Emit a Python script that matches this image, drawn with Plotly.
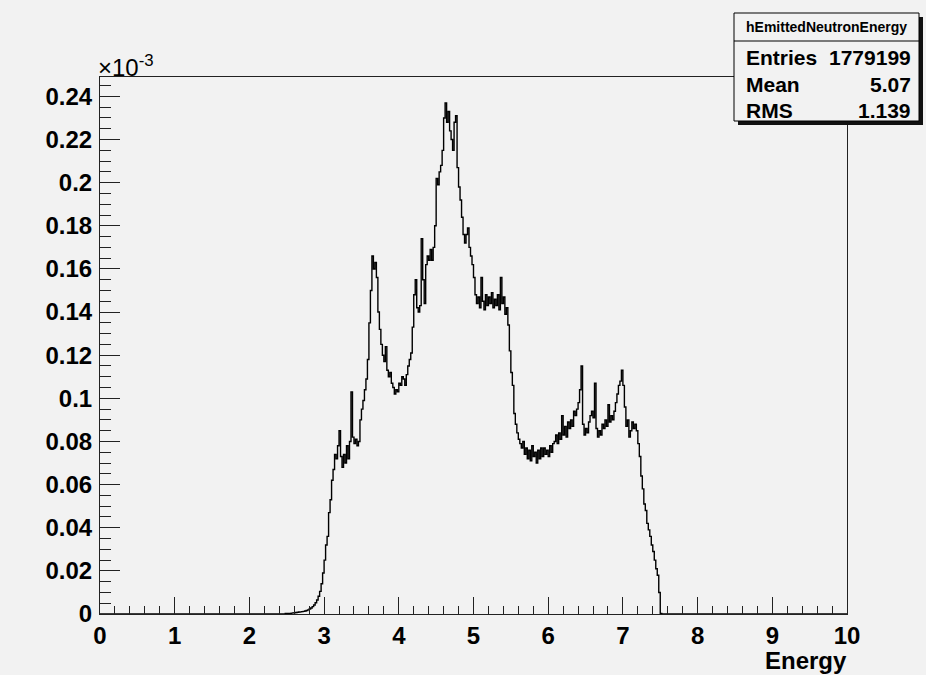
import plotly.graph_objects as go

# ---- data (values in units of 1e-3) ----
bin_width = 0.02
first_filled_edge = 2.40
hist_values = [
    0, 0, 0, 0, 0.0002, 0.0002, 0.0003, 0.0003, 0.0004, 0.0005,
    0.0006, 0.0007, 0.0008, 0.0009, 0.0010, 0.0011, 0.0012, 0.0014, 0.0016, 0.0019,
    0.0023, 0.0028, 0.0034, 0.0042, 0.0052, 0.0065, 0.0082, 0.0105, 0.0140, 0.0190,
    0.0250, 0.0320, 0.0360, 0.0470, 0.0530, 0.0620, 0.0670, 0.0740, 0.0720, 0.0780,
    0.0850, 0.0730, 0.0680, 0.0740, 0.0700, 0.0780, 0.0720, 0.0800, 0.1030, 0.0820,
    0.0790, 0.0810, 0.0780, 0.0800, 0.0900, 0.0950, 0.0990, 0.1040, 0.1090, 0.1180,
    0.1350, 0.1500, 0.1660, 0.1600, 0.1630, 0.1560, 0.1400, 0.1320, 0.1250, 0.1200,
    0.1170, 0.1240, 0.1130, 0.1100, 0.1120, 0.1070, 0.1050, 0.1020, 0.1040, 0.1030,
    0.1070, 0.1060, 0.1100, 0.1090, 0.1060, 0.1110, 0.1150, 0.1180, 0.1210, 0.1330,
    0.1480, 0.1550, 0.1420, 0.1400, 0.1430, 0.1740, 0.1550, 0.1440, 0.1620, 0.1660,
    0.1640, 0.1690, 0.1640, 0.1700, 0.1800, 0.2020, 0.1990, 0.2050, 0.2080, 0.2150,
    0.2300, 0.2370, 0.2280, 0.2330, 0.2240, 0.2200, 0.2150, 0.2280, 0.2310, 0.2070,
    0.1980, 0.1920, 0.1840, 0.1760, 0.1720, 0.1760, 0.1790, 0.1700, 0.1660, 0.1620,
    0.1560, 0.1480, 0.1440, 0.1470, 0.1420, 0.1560, 0.1450, 0.1410, 0.1480, 0.1430,
    0.1470, 0.1440, 0.1490, 0.1420, 0.1460, 0.1430, 0.1480, 0.1410, 0.1560, 0.1440,
    0.1470, 0.1390, 0.1420, 0.1340, 0.1220, 0.1120, 0.1060, 0.0930, 0.0880, 0.0840,
    0.0810, 0.0790, 0.0770, 0.0800, 0.0740, 0.0770, 0.0720, 0.0760, 0.0710, 0.0780,
    0.0730, 0.0750, 0.0700, 0.0760, 0.0720, 0.0770, 0.0730, 0.0770, 0.0740, 0.0760,
    0.0730, 0.0780, 0.0750, 0.0790, 0.0800, 0.0830, 0.0790, 0.0840, 0.0810, 0.0920,
    0.0830, 0.0870, 0.0820, 0.0890, 0.0860, 0.0900, 0.0870, 0.0940, 0.0920, 0.0950,
    0.0980, 0.1040, 0.1150, 0.0880, 0.0830, 0.0860, 0.0840, 0.0890, 0.0920, 0.0940,
    0.0910, 0.1070, 0.0860, 0.0820, 0.0850, 0.0830, 0.0880, 0.0860, 0.0900, 0.0870,
    0.0970, 0.0890, 0.0920, 0.0900, 0.0940, 0.0980, 0.1020, 0.1060, 0.1080, 0.1130,
    0.1060, 0.0960, 0.0870, 0.0900, 0.0820, 0.0850, 0.0890, 0.0860, 0.0880, 0.0850,
    0.0790, 0.0730, 0.0640, 0.0580, 0.0510, 0.0480, 0.0420, 0.0390, 0.0360, 0.0320,
    0.0290, 0.0250, 0.0210, 0.0180, 0.0100, 0.0003,
]
x_min, x_max = 0.0, 10.0
y_max = 0.249
y_ticks = [0, 0.02, 0.04, 0.06, 0.08, 0.1, 0.12, 0.14, 0.16, 0.18, 0.2, 0.22, 0.24]
y_tick_labels = ["0", "0.02", "0.04", "0.06", "0.08", "0.1", "0.12", "0.14",
                 "0.16", "0.18", "0.2", "0.22", "0.24"]
x_ticks = [0, 1, 2, 3, 4, 5, 6, 7, 8, 9, 10]
x_title = "Energy"
y_exponent = "×10<sup>-3</sup>"
stats_title = "hEmittedNeutronEnergy"
stats_rows = [("Entries", "1779199"), ("Mean", "5.07"), ("RMS", "1.139")]

# ---- build full histogram 0..10 ----
n_bins = int(round((x_max - x_min) / bin_width))
n_before = int(round((first_filled_edge - x_min) / bin_width))
counts = [0.0] * n_before + list(hist_values)
counts += [0.0] * (n_bins - len(counts))
edges = [round(x_min + i * bin_width, 4) for i in range(n_bins + 1)]
xs = edges
ys = counts + [counts[-1]]

BG = "#f2f2f2"
FONT = "Liberation Sans"
W, H = 926, 675
ML, MR, MT, MB = 100, 79, 77, 61

fig = go.Figure()
fig.add_trace(go.Scatter(x=xs, y=ys, mode="lines",
                         line=dict(color="black", width=1.4, shape="hv"),
                         hoverinfo="skip", showlegend=False))

fig.update_layout(
    width=W, height=H,
    margin=dict(l=ML, r=MR, t=MT, b=MB, pad=0),
    paper_bgcolor=BG, plot_bgcolor=BG,
    showlegend=False,
)
fig.update_xaxes(
    range=[x_min, x_max], tickvals=x_ticks, ticks="inside", ticklen=17,
    tickcolor="#222", tickwidth=1, showgrid=False, zeroline=False,
    showline=True, linecolor="#222", linewidth=1, mirror=True,
    tickfont=dict(family=FONT, size=24, color="black", weight="bold"),
    ticklabelstandoff=0,
    minor=dict(dtick=0.2, tick0=0, ticks="inside", ticklen=8, tickcolor="#222", showgrid=False),
)
fig.update_yaxes(
    range=[0, y_max], tickvals=y_ticks, ticktext=y_tick_labels, ticks="inside", ticklen=20,
    tickcolor="#222", tickwidth=1, showgrid=False, zeroline=False,
    showline=True, linecolor="#222", linewidth=1, mirror=True,
    tickfont=dict(family=FONT, size=24, color="black", weight="bold"),
    ticklabelstandoff=2,
    minor=dict(dtick=0.005, tick0=0, ticks="inside", ticklen=11, tickcolor="#222", showgrid=False),
)

# pixel -> paper helpers
pw, ph = W - ML - MR, H - MT - MB
def px(x):
    return (x - ML) / pw
def py(y):
    return (H - MB - y) / ph

# exponent label and axis title
fig.add_annotation(x=px(96), y=py(83), xref="paper", yref="paper", text=y_exponent,
                   showarrow=False, xanchor="left", yanchor="bottom",
                   font=dict(family=FONT, size=24, color="black"))
fig.add_annotation(x=px(849), y=py(660), xref="paper", yref="paper", text=x_title,
                   showarrow=False, xanchor="right", yanchor="middle",
                   font=dict(family=FONT, size=24, color="black", weight="bold"))

# stats box
bx0, by0, bx1, by1 = 734, 13, 919, 121
fig.add_shape(type="rect", xref="paper", yref="paper",
              x0=px(bx0 + 4), x1=px(bx1 + 4), y0=py(by0 + 4), y1=py(by1 + 4),
              fillcolor="#111", line=dict(width=0), layer="above")
fig.add_shape(type="rect", xref="paper", yref="paper",
              x0=px(bx0), x1=px(bx1), y0=py(by0), y1=py(by1),
              fillcolor=BG, line=dict(color="black", width=1), layer="above")
fig.add_shape(type="line", xref="paper", yref="paper",
              x0=px(bx0), x1=px(bx1), y0=py(41), y1=py(41),
              line=dict(color="black", width=1), layer="above")
fig.add_annotation(x=px((bx0 + bx1) / 2), y=py(27), xref="paper", yref="paper",
                   text=stats_title, showarrow=False, xanchor="center", yanchor="middle",
                   font=dict(family=FONT, size=14, color="black", weight="bold"))
row_y = [57, 84, 110]
for (lab, val), ry in zip(stats_rows, row_y):
    fig.add_annotation(x=px(744), y=py(ry), xref="paper", yref="paper", text=lab,
                       showarrow=False, xanchor="left", yanchor="middle",
                       font=dict(family=FONT, size=21, color="black", weight="bold"))
    fig.add_annotation(x=px(913), y=py(ry), xref="paper", yref="paper", text=val,
                       showarrow=False, xanchor="right", yanchor="middle",
                       font=dict(family=FONT, size=21, color="black", weight="bold"))

fig.write_html(
    "out.html",
    config={"displayModeBar": False},
    post_script="document.body.style.margin='0';document.body.style.background='#f2f2f2';",
)
